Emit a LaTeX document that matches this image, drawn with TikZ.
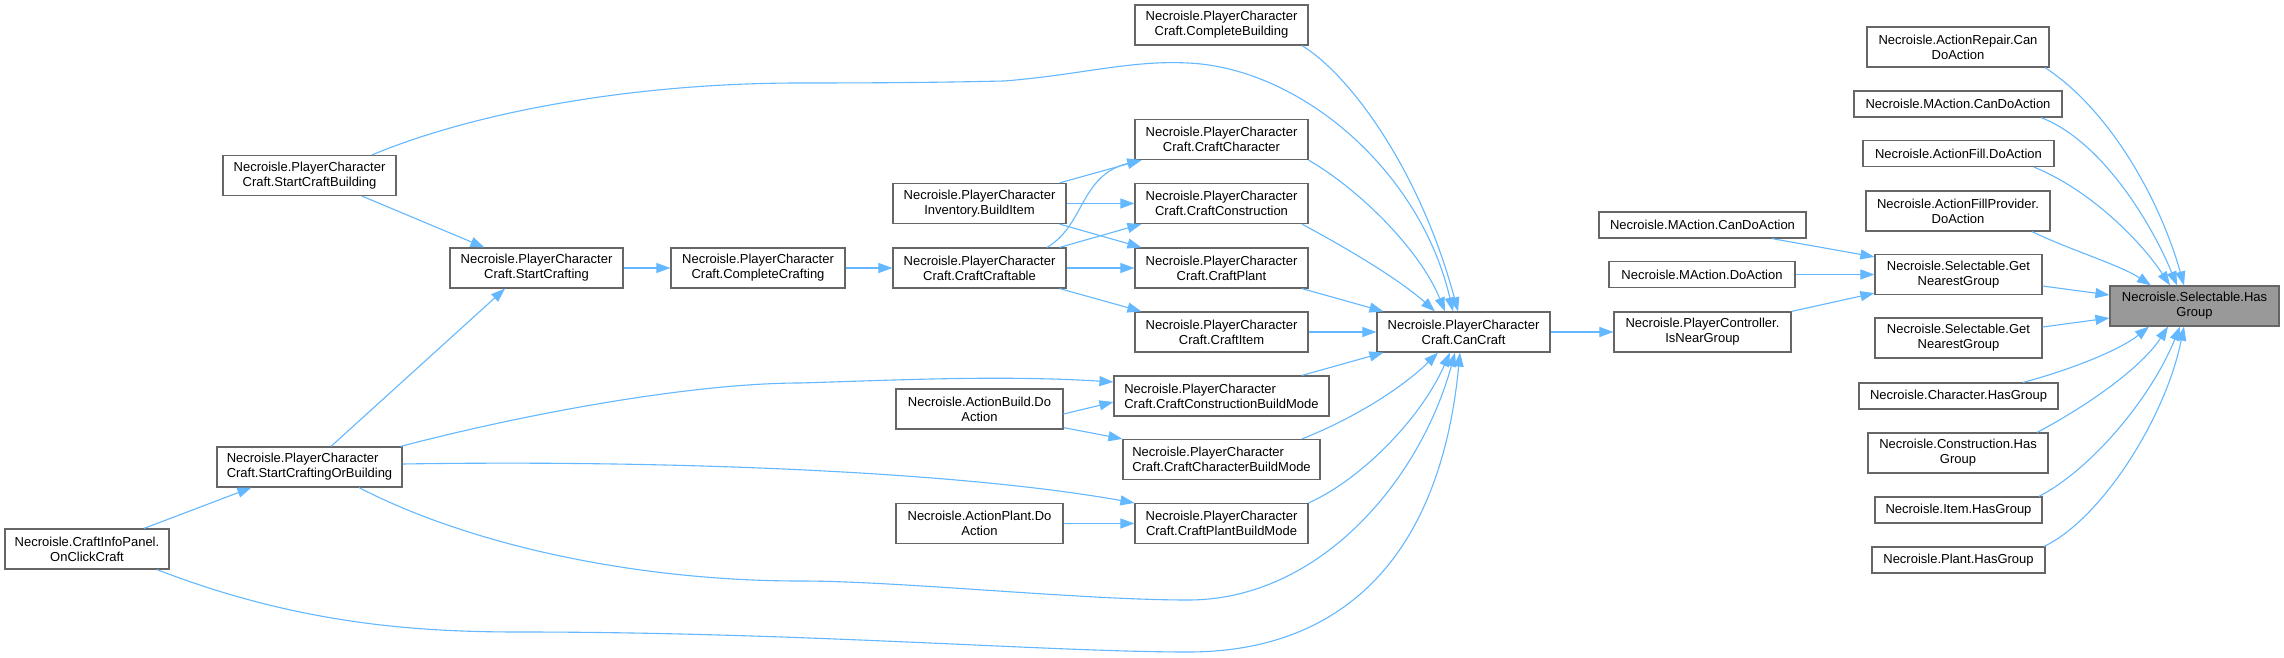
\documentclass[tikz,border=0pt]{standalone}
\usepackage{fontspec}
\setmainfont{Liberation Sans}
\usetikzlibrary{arrows.meta}
\definecolor{edgeblue}{HTML}{63B8FF}
\definecolor{nodeborder}{HTML}{666666}
\definecolor{hlfill}{HTML}{999999}
\tikzset{
  box/.style={draw=nodeborder, line width=1.2pt, fill=white, inner sep=0pt, align=center,
    font=\fontsize{13}{15}\selectfont, minimum height=40pt},
  one/.style={minimum height=26pt},
  edge/.style={draw=edgeblue, line width=1.1pt, -{Triangle[length=14pt,width=10pt]}},
}
\begin{document}
\begin{tikzpicture}[x=1pt,y=-1pt]
\useasboundingbox[fill=white] (0,0) rectangle (2284,658);
% left part
\node[box, minimum width=173pt] (cb) at (1221.5,25) {Necroisle.PlayerCharacter\\Craft.CompleteBuilding};
\node[box, minimum width=173pt] (scb) at (309.5,175.5) {Necroisle.PlayerCharacter\\Craft.StartCraftBuilding};
\node[box, minimum width=173pt] (cch) at (1221.5,139.5) {Necroisle.PlayerCharacter\\Craft.CraftCharacter};
\node[box, minimum width=173pt] (bi) at (979.5,203.5) {Necroisle.PlayerCharacter\\Inventory.BuildItem};
\node[box, minimum width=173pt] (ccon) at (1221.5,203.5) {Necroisle.PlayerCharacter\\Craft.CraftConstruction};
\node[box, minimum width=173pt] (sc) at (536.5,268) {Necroisle.PlayerCharacter\\Craft.StartCrafting};
\node[box, minimum width=174pt] (cc) at (758,268) {Necroisle.PlayerCharacter\\Craft.CompleteCrafting};
\node[box, minimum width=173pt] (ccr) at (979.5,268) {Necroisle.PlayerCharacter\\Craft.CraftCraftable};
\node[box, minimum width=173pt] (cp) at (1221.5,268) {Necroisle.PlayerCharacter\\Craft.CraftPlant};
\node[box, minimum width=173pt] (ci) at (1221.5,332) {Necroisle.PlayerCharacter\\Craft.CraftItem};
\node[box, minimum width=173pt] (can) at (1463.5,332) {Necroisle.PlayerCharacter\\Craft.CanCraft};
\node[box, minimum width=215pt, align=left] (ccbm) at (1221.5,396) {Necroisle.PlayerCharacter\\Craft.CraftConstructionBuildMode};
\node[box, minimum width=167pt] (abd) at (979.5,409) {Necroisle.ActionBuild.Do\\Action};
\node[box, minimum width=197pt, align=left] (chbm) at (1221.5,459.5) {Necroisle.PlayerCharacter\\Craft.CraftCharacterBuildMode};
\node[box, minimum width=185pt, align=left] (scob) at (309.5,467) {Necroisle.PlayerCharacter\\Craft.StartCraftingOrBuilding};
\node[box, minimum width=167pt] (apd) at (979.5,523.5) {Necroisle.ActionPlant.Do\\Action};
\node[box, minimum width=173pt] (cpbm) at (1221.5,523.5) {Necroisle.PlayerCharacter\\Craft.CraftPlantBuildMode};
\node[box, minimum width=164pt] (ocl) at (87,549) {Necroisle.CraftInfoPanel.\\OnClickCraft};
% middle / right part
\node[box, minimum width=177pt] (inear) at (1702.5,332) {Necroisle.PlayerController.\\IsNearGroup};
\node[box, one, minimum width=207pt] (macl) at (1702.5,225) {Necroisle.MAction.CanDoAction};
\node[box, one, minimum width=186pt] (mado) at (1702,274.5) {Necroisle.MAction.DoAction};
\node[box, minimum width=167pt] (gng1) at (1958.5,274.5) {Necroisle.Selectable.Get\\NearestGroup};
\node[box, minimum width=167pt] (gng2) at (1958.5,338) {Necroisle.Selectable.Get\\NearestGroup};
\node[box, minimum width=169pt, fill=hlfill] (hg) at (2194.5,306) {Necroisle.Selectable.Has\\Group};
\node[box, minimum width=182pt] (arc) at (1958,47) {Necroisle.ActionRepair.Can\\DoAction};
\node[box, one, minimum width=208pt] (macr) at (1958,104) {Necroisle.MAction.CanDoAction};
\node[box, one, minimum width=191pt] (afd) at (1958.5,153.5) {Necroisle.ActionFill.DoAction};
\node[box, minimum width=184pt] (afp) at (1958,211) {Necroisle.ActionFillProvider.\\DoAction};
\node[box, one, minimum width=199pt] (chg) at (1958.5,396) {Necroisle.Character.HasGroup};
\node[box, minimum width=180pt] (cohg) at (1958,453) {Necroisle.Construction.Has\\Group};
\node[box, one, minimum width=167pt] (ihg) at (1958.5,510) {Necroisle.Item.HasGroup};
\node[box, one, minimum width=173pt] (phg) at (1958.5,560) {Necroisle.Plant.HasGroup};

% edges into CanCraft
\path[edge] ([xshift=62.5pt]scb.north) .. controls (480,110) and (640,83) .. (800,83)
  .. controls (900,83) and (960,82) .. (1004,81)
  .. controls (1080,75) and (1130,60) .. (1188,63)
  .. controls (1300,68) and (1420,170) .. ([xshift=-10.5pt]can.north);
\path[edge] ([xshift=80.5pt]cb.south) .. controls (1350,75) and (1420,170) .. ([xshift=-5.5pt]can.north);
\path[edge] (cch.south east) .. controls (1360,190) and (1420,250) .. ([xshift=-18.5pt]can.north);
\path[edge] ([xshift=80.5pt]ccon.south) .. controls (1350,250) and (1400,280) .. ([xshift=-28.5pt]can.north);
\path[edge] ([xshift=80.5pt]cp.south) -- ([xshift=7pt]can.north west);
\path[edge] (ci.east) -- (can.west);
\path[edge] ([xshift=80.5pt]ccbm.north) -- ([xshift=7pt]can.south west);
\path[edge] ([xshift=80.5pt]chbm.north) .. controls (1350,420) and (1400,390) .. ([xshift=-25.5pt]can.south);
\path[edge] (cpbm.north east) .. controls (1360,480) and (1420,420) .. ([xshift=-13.5pt]can.south);
\path[edge] ([xshift=49.5pt]scob.south) .. controls (480,550) and (650,581) .. (800,581)
  .. controls (900,581) and (1080,600) .. (1188,600)
  .. controls (1320,600) and (1420,480) .. ([xshift=-8.5pt]can.south);
\path[edge] ([xshift=70pt]ocl.south) .. controls (300,625) and (420,632) .. (520,632)
  .. controls (800,632) and (1050,652) .. (1188,652)
  .. controls (1340,652) and (1440,560) .. ([xshift=-3.5pt]can.south);
% left chain
\path[edge] ([xshift=52.5pt]scb.south) -- ([xshift=35pt]sc.north west);
\path[edge] ([xshift=21.5pt]scob.north) -- ([xshift=-31.5pt]sc.south);
\path[edge] ([xshift=57pt]ocl.north) -- ([xshift=35pt]scob.south west);
\path[edge] (sc.east) -- (cc.west);
\path[edge] (cc.east) -- (ccr.west);
\path[edge] ([xshift=67.5pt]ccr.north) .. controls (1085,225) and (1080,175) .. ([xshift=7pt]cch.south west);
\path[edge] ([xshift=-7pt]bi.north east) -- ([xshift=7pt]cch.south west);
\path[edge] (bi.east) -- (ccon.west);
\path[edge] ([xshift=-7pt]bi.south east) -- ([xshift=7pt]cp.north west);
\path[edge] ([xshift=-7pt]ccr.north east) -- ([xshift=7pt]ccon.south west);
\path[edge] (ccr.east) -- (cp.west);
\path[edge] ([xshift=-7pt]ccr.south east) -- ([xshift=7pt]ci.north west);
\path[edge] ([xshift=-2pt]scob.north east) .. controls (540,410) and (700,383) .. (800,383)
  .. controls (900,380) and (1000,375) .. ([yshift=14pt]ccbm.west);
\path[edge] ([yshift=-5pt]abd.east) -- ([yshift=-6pt]ccbm.west);
\path[edge] ([yshift=2pt]abd.south east) -- (chbm.north west);
\path[edge] ([yshift=3pt]scob.east) .. controls (650,460) and (950,470) .. (cpbm.north west);
\path[edge] (apd.east) -- (cpbm.west);
% right part
\path[edge] (can.east) -- (inear.west);
\path[edge] (inear.north east) -- ([yshift=2pt]gng1.south west);
\path[edge] (mado.east) -- (gng1.west);
\path[edge] ([xshift=69.5pt]macl.south) -- ([yshift=-3pt]gng1.north west);
\path[edge] ([yshift=-11.5pt]gng1.east) -- ([yshift=11pt]hg.west);
\path[edge] ([yshift=11pt]gng2.east) -- ([yshift=-12pt]hg.west);
\path[edge] ([xshift=87pt]arc.south) .. controls (2110,110) and (2160,200) .. ([xshift=-10.5pt]hg.north);
\path[edge] ([xshift=83pt]macr.south) .. controls (2100,140) and (2150,220) .. ([xshift=-17.5pt]hg.north);
\path[edge] ([xshift=75.5pt]afd.south) .. controls (2090,190) and (2140,240) .. ([xshift=-24.5pt]hg.north);
\path[edge] ([xshift=74pt]afp.south) .. controls (2070,250) and (2120,265) .. ([xshift=-43.5pt]hg.north);
\path[edge] ([xshift=64.5pt]chg.north) .. controls (2070,370) and (2120,350) .. ([xshift=-45.5pt]hg.south);
\path[edge] ([xshift=79pt]cohg.north) .. controls (2080,410) and (2140,370) .. ([xshift=-26.5pt]hg.south);
\path[edge] ([xshift=80.5pt]ihg.north) .. controls (2090,470) and (2150,400) .. ([xshift=-14.5pt]hg.south);
\path[edge] ([xshift=85.5pt]phg.north) .. controls (2100,520) and (2165,420) .. ([xshift=-10.5pt]hg.south);
\end{tikzpicture}
\end{document}
